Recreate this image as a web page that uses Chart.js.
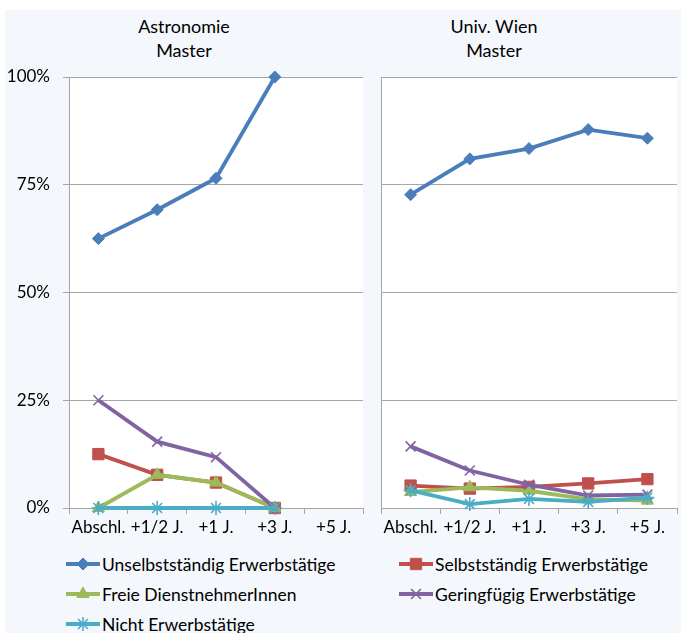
<!DOCTYPE html>
<html>
<head>
<meta charset="utf-8">
<script src="https://cdn.jsdelivr.net/npm/chart.js@4.4.1/dist/chart.umd.min.js"></script>
<style>
  html, body { margin: 0; padding: 0; background: #ffffff; overflow: hidden; }
  body { width: 681px; height: 633px; position: relative; font-family: 'Lato', sans-serif; }
  #bg { position: absolute; left: 5px; top: 10px; right: 0; bottom: 0; background: #f4f7fb; }
  .title { position: absolute; top: 14px; width: 240px; text-align: center; font-size: 18px; line-height: 24px; color: #000; }
  #c1wrap { position: absolute; left: 0; top: 0; width: 372px; height: 545px; }
  #c2wrap { position: absolute; left: 372px; top: 0; width: 309px; height: 545px; overflow: hidden; }
  #legend { position: absolute; left: 0; top: 0; }
  .leg { position: absolute; display: flex; align-items: center; font-size: 17.5px; color: #000; white-space: nowrap; height: 24px; }
  .leg canvas { display: block; margin-right: 2px; }
</style>
</head>
<body>
<div id="bg"></div>
<div class="title" id="t1" style="left:64px;"></div>
<div class="title" id="t2" style="left:374px;"></div>
<div id="c1wrap"><canvas id="c1" width="372" height="545" style="width:372px;height:545px"></canvas></div>
<div id="c2wrap"><canvas id="c2" width="314" height="545" style="width:314px;height:545px"></canvas></div>
<div id="legend"></div>
<script>
// ---- Data ----
const categories = ['Abschl.', '+1/2 J.', '+1 J.', '+3 J.', '+5 J.'];
const panelTitles = [['Astronomie', 'Master'], ['Univ. Wien', 'Master']];
const seriesNames = ['Unselbstständig Erwerbstätige', 'Selbstständig Erwerbstätige', 'Freie DienstnehmerInnen', 'Geringfügig Erwerbstätige', 'Nicht Erwerbstätige'];
const yTickValues = [0, 25, 50, 75, 100];

// Astronomie Master (%)
const astroUnselbst = [62.5, 69.2, 76.5, 100, null];
const astroSelbst   = [12.5, 7.7, 5.9, 0, null];
const astroFreie    = [0, 7.7, 5.9, 0, null];
const astroGering   = [25, 15.4, 11.8, 0, null];
const astroNicht    = [0, 0, 0, 0, null];

// Univ. Wien Master (%)
const wienUnselbst = [72.7, 81.0, 83.4, 87.8, 85.8];
const wienSelbst   = [5.2, 4.5, 4.9, 5.7, 6.7];
const wienFreie    = [3.7, 4.8, 4.0, 2.0, 1.7];
const wienGering   = [14.3, 8.7, 5.4, 2.9, 3.1];
const wienNicht    = [4.1, 0.9, 2.1, 1.4, 2.4];

// ---- Styles ----
const colors = ['#4a7ebb', '#c0504d', '#9bbb59', '#8064a2', '#4bacc6'];
const pointStyles = ['rectRot', 'rect', 'triangle', 'crossRot', 'star'];
const pointRadii = [6, 8, 7, 7, 7];
const pointBorders = [1, 1, 1, 1.6, 1.6];
const gridColor = '#a6a6a6';
const FONT = 'Lato';

function makeDatasets(arrays) {
  return arrays.map((d, i) => ({
    label: seriesNames[i],
    data: d,
    borderColor: colors[i],
    backgroundColor: colors[i],
    borderWidth: 3.8,
    pointStyle: pointStyles[i],
    pointRadius: pointRadii[i],
    pointHoverRadius: pointRadii[i],
    pointBorderWidth: pointBorders[i],
    pointBorderColor: colors[i],
    pointBackgroundColor: colors[i],
    tension: 0,
    clip: false,
    order: 5 - i
  }));
}

const whiteArea = {
  id: 'whiteArea',
  beforeDraw(chart) {
    const a = chart.chartArea, ctx = chart.ctx;
    ctx.save();
    ctx.fillStyle = '#ffffff';
    ctx.fillRect(a.left, a.top, a.right - a.left, a.bottom - a.top);
    ctx.restore();
  }
};

function makeChart(id, arrays, showYLabels, yWidth, pad) {
  return new Chart(document.getElementById(id), {
    type: 'line',
    data: { labels: categories, datasets: makeDatasets(arrays) },
    plugins: [whiteArea],
    options: {
      responsive: false,
      animation: false,
      events: [],
      layout: { padding: pad },
      plugins: { legend: { display: false }, title: { display: false }, tooltip: { enabled: false } },
      scales: {
        x: {
          type: 'category',
          offset: true,
          grid: { display: true, offset: true, drawOnChartArea: false, drawTicks: true, tickLength: 6, color: gridColor, lineWidth: 1 },
          border: { display: true, color: gridColor, width: 1 },
          ticks: { color: '#000', font: { family: FONT, size: 17 }, padding: 3, maxRotation: 0, autoSkip: false },
          afterFit(s) { s.height = 37; }
        },
        y: {
          min: 0, max: 100,
          afterBuildTicks(s) { s.ticks = yTickValues.map(v => ({ value: v })); },
          grid: { color: gridColor, lineWidth: 1, drawTicks: showYLabels, tickLength: showYLabels ? 6 : 0 },
          border: { display: true, color: gridColor, width: 1 },
          ticks: {
            display: showYLabels,
            color: '#000',
            font: { family: FONT, size: 17 },
            padding: 13,
            callback: v => v + '%'
          },
          afterFit(s) { s.width = yWidth; }
        }
      }
    }
  });
}

function buildTitles() {
  document.getElementById('t1').innerHTML = panelTitles[0].join('<br>');
  document.getElementById('t2').innerHTML = panelTitles[1].join('<br>');
}

function buildLegend() {
  const leg = document.getElementById('legend');
  const pos = [[66, 552], [399, 552], [66, 582], [399, 582], [66, 612]];
  seriesNames.forEach((name, i) => {
    const div = document.createElement('div');
    div.className = 'leg';
    div.style.left = pos[i][0] + 'px';
    div.style.top = pos[i][1] + 'px';
    const cv = document.createElement('canvas');
    cv.width = 34; cv.height = 20;
    cv.style.width = '34px'; cv.style.height = '20px';
    const ctx = cv.getContext('2d');
    ctx.strokeStyle = colors[i];
    ctx.lineWidth = 3.8;
    ctx.beginPath(); ctx.moveTo(0, 10); ctx.lineTo(34, 10); ctx.stroke();
    ctx.fillStyle = colors[i];
    ctx.lineWidth = pointBorders[i];
    Chart.helpers.drawPoint(ctx, { pointStyle: pointStyles[i], radius: pointRadii[i], borderWidth: pointBorders[i] }, 17, 10);
    div.appendChild(cv);
    const span = document.createElement('span');
    span.textContent = name;
    div.appendChild(span);
    leg.appendChild(div);
  });
}

function init() {
  buildTitles();
  buildLegend();
  makeChart('c1', [astroUnselbst, astroSelbst, astroFreie, astroGering, astroNicht], true, 69, { left: 0, right: 3, top: 77, bottom: 0 });
  makeChart('c2', [wienUnselbst, wienSelbst, wienFreie, wienGering, wienNicht], false, 2, { left: 0, right: 0, top: 77, bottom: 0 });
}

if (document.fonts && document.fonts.load) {
  Promise.all([document.fonts.load('16px Lato'), document.fonts.load('18px Lato')]).then(init, init);
} else {
  init();
}
</script>
</body>
</html>
